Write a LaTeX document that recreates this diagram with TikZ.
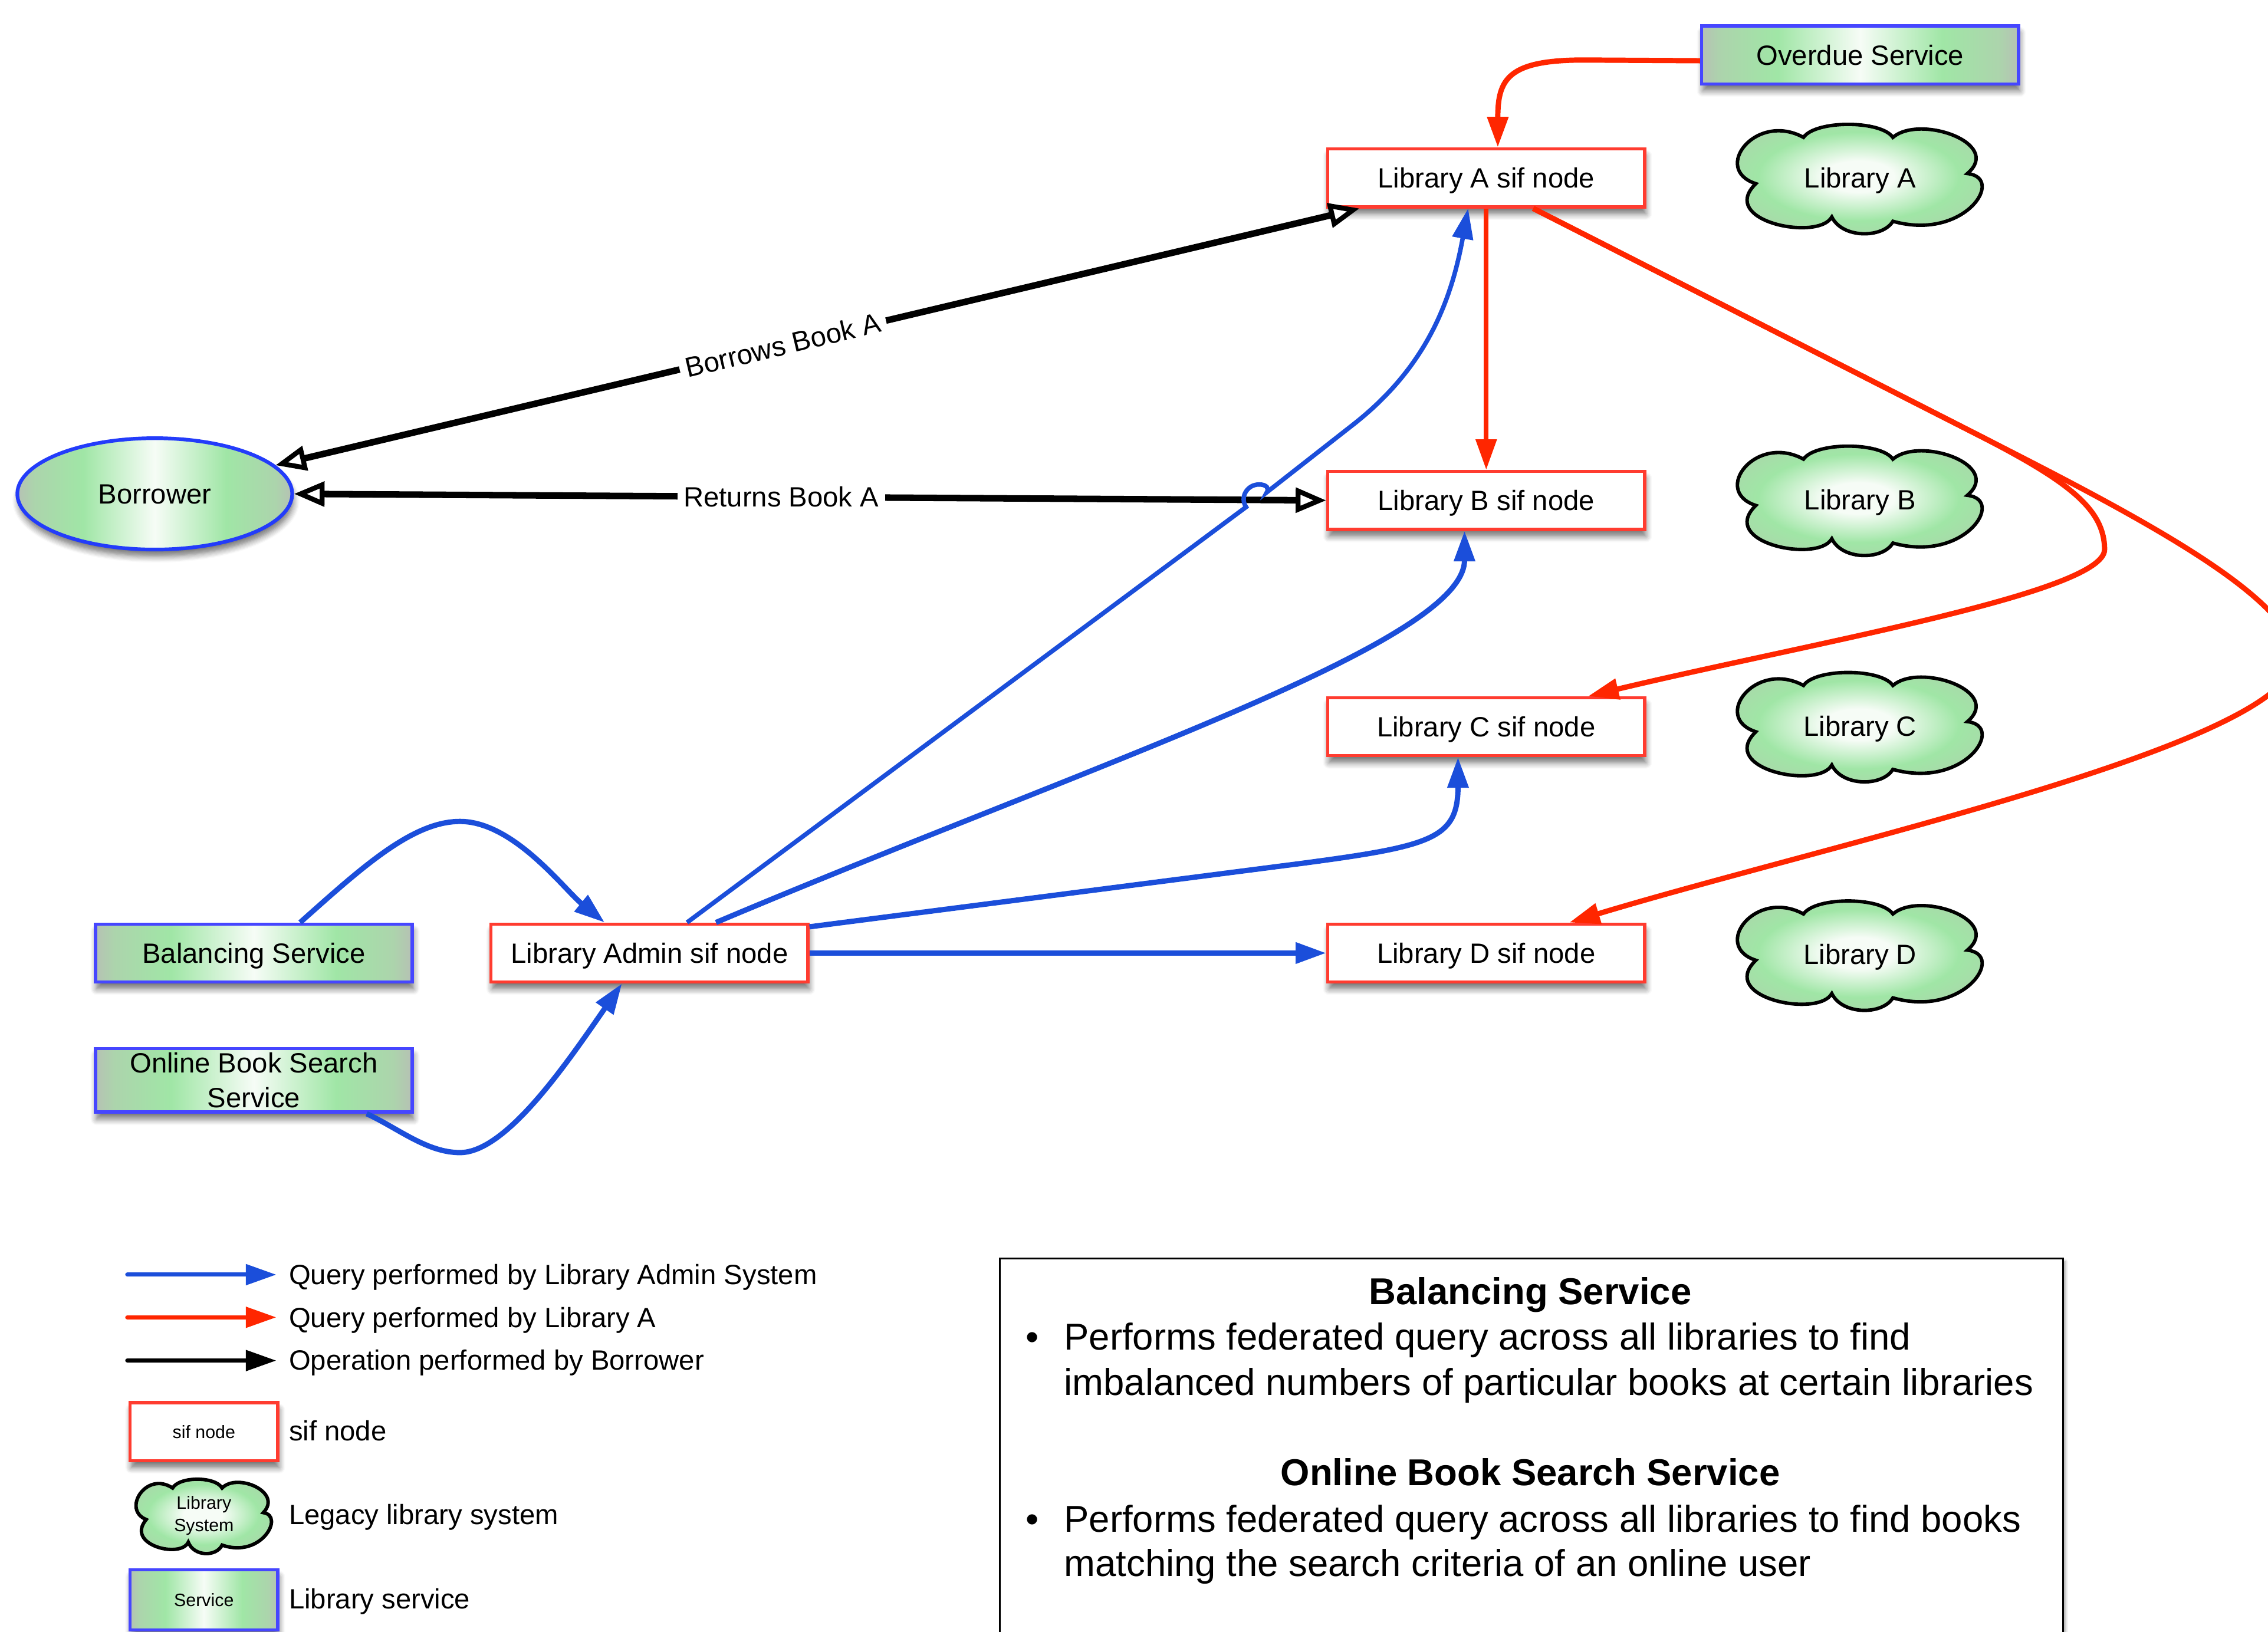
\documentclass[tikz,border=0pt]{standalone}
\usepackage{fontspec}
\setmainfont{Liberation Sans}
\usetikzlibrary{arrows.meta,shapes.geometric,shadows.blur,calc}

\definecolor{lnblue}{RGB}{27,78,218}
\definecolor{lnred}{RGB}{255,38,0}
\definecolor{sifred}{RGB}{255,60,48}
\definecolor{svcblue}{RGB}{70,70,255}
\definecolor{elblue}{RGB}{35,60,250}
\definecolor{sgray}{RGB}{182,193,180}
\definecolor{smid}{RGB}{172,212,172}
\definecolor{sgreen}{RGB}{160,230,166}
\definecolor{swhite}{RGB}{246,252,246}
\definecolor{cmid}{RGB}{170,215,170}

\pgfdeclarehorizontalshading{svcshade}{100bp}{color(0bp)=(sgray); color(25bp)=(sgray); color(28bp)=(smid); color(37bp)=(sgreen); color(50bp)=(swhite); color(63bp)=(sgreen); color(72bp)=(smid); color(75bp)=(sgray); color(100bp)=(sgray)}
\pgfdeclareradialshading{cloudshade}{\pgfpoint{0bp}{0bp}}{color(0bp)=(swhite); color(6bp)=(swhite); color(17bp)=(sgreen); color(25bp)=(cmid); color(32bp)=(sgray); color(50bp)=(sgray)}

\newcommand{\nodefnt}{\fontsize{13.7}{17}\selectfont}
\newcommand{\smallfnt}{\fontsize{8.8}{10.9}\selectfont}
\newcommand{\descfnt}{\fontsize{18.4}{22.1}\selectfont}

\begin{document}
\begin{tikzpicture}[x=0.025cm, y=-0.025cm,
  filltip/.tip={Triangle[length=15pt,width=10pt]},
  opentip/.tip={Triangle[length=15pt,width=12pt,fill=white,line width=2.4pt]},
  shadowed/.style={blur shadow={shadow xshift=0.6pt, shadow yshift=-3.4pt, shadow blur radius=3pt, shadow blur steps=6, shadow opacity=55}},
  every node/.style={font=\nodefnt, text=black},
  capbox/.style={text height=9.8pt, text depth=0pt},
  smallcap/.style={text height=6.3pt, text depth=0pt},
  sif/.style={rectangle, draw=sifred, line width=1.6pt, fill=white, minimum width=5.475cm, minimum height=1cm, inner sep=0pt, shadowed},
  svc/.style={rectangle, draw=svcblue, line width=1.6pt, shade, shading=svcshade, minimum width=5.475cm, minimum height=1cm, inner sep=0pt, align=center, shadowed},
  cloudlook/.style={draw=black, line width=1.7pt, shade, shading=cloudshade, shadowed},
  cloudpic/.pic={
    \path[pic actions] (-70,4)
      .. controls (-100,-6) and (-70,-46) .. (-38,-28)
      .. controls (-30,-40) and (14,-40) .. (22,-28)
      .. controls (40,-44) and (96,-24) .. (72,-3)
      .. controls (98,0) and (70,44) .. (22,30)
      .. controls (15,42) and (-12,42) .. (-19,27)
      .. controls (-28,44) and (-96,30) .. (-70,4) -- cycle;
  },
  cloudtext/.style={inner sep=0pt, align=center},
  borrow/.style={ellipse, draw=elblue, line width=1.8pt, shade, shading=svcshade, minimum width=4.75cm, minimum height=1.925cm, inner sep=0pt, shadowed},
  blueln/.style={draw=lnblue, line width=2.6pt, -filltip},
  redln/.style={draw=lnred, line width=2.6pt, -filltip},
  blkln/.style={draw=black, line width=3.2pt, opentip-opentip},
  lbl/.style={fill=white, inner sep=3pt},
  lgtext/.style={anchor=base west, inner sep=0pt},
  dtitle/.style={anchor=base, inner sep=0pt, font=\descfnt\bfseries},
  dtext/.style={anchor=base west, inner sep=0pt, font=\descfnt},
  dbul/.style={anchor=base, inner sep=0pt, font=\descfnt}
]
\useasboundingbox (0,0) rectangle (1568,1128.5);
\clip (0,0) rectangle (1568,1128.5);

% ---- nodes ----
\node[svc, capbox] (overdue) at (1286,38) {Overdue Service};
\node[sif, capbox] (libA) at (1027.5,123) {Library A sif node};
\node[sif, capbox] (libB) at (1027.5,346) {Library B sif node};
\node[sif, capbox] (libC) at (1027.5,502.5) {Library C sif node};
\node[sif, capbox] (libD) at (1027.5,659) {Library D sif node};
\node[sif, capbox] (admin) at (449,659) {Library Admin sif node};
\node[svc, capbox] (balancing) at (175.5,659) {Balancing Service};
\node[svc, minimum height=1.1cm] (online) at (175.5,747) {Online Book Search\\Service};
\node[borrow, capbox] (borrower) at (107,341.5) {Borrower};

% ---- legacy library clouds ----
\pic[cloudlook, xscale=1.03] at (1286,123) {cloudpic};
\node[cloudtext, capbox] (cloudA) at (1286,123) {Library A};
\pic[cloudlook, xscale=1.03] at (1286,345.5) {cloudpic};
\node[cloudtext, capbox] (cloudB) at (1286,345.5) {Library B};
\pic[cloudlook, xscale=1.03] at (1286,502) {cloudpic};
\node[cloudtext, capbox] (cloudC) at (1286,502) {Library C};
\pic[cloudlook, xscale=1.03] at (1286,660) {cloudpic};
\node[cloudtext, capbox] (cloudD) at (1286,660) {Library D};

% ---- legend ----
\coordinate (lgb1) at (88,881.4);  \coordinate (lgb2) at (191,881.4);
\coordinate (lgr1) at (88,910.9);  \coordinate (lgr2) at (191,910.9);
\coordinate (lgk1) at (88,940.8);  \coordinate (lgk2) at (191,940.8);
\draw[draw=lnblue, line width=2pt, line cap=round, -filltip] (lgb1) -- (lgb2);
\draw[draw=lnred, line width=2pt, line cap=round, -filltip] (lgr1) -- (lgr2);
\draw[draw=black, line width=2pt, line cap=round, -filltip] (lgk1) -- (lgk2);
\node[lgtext] (lgbt) at (199.5,888.3) {Query performed by Library Admin System};
\node[lgtext] (lgrt) at (199.5,917.8) {Query performed by Library A};
\node[lgtext] (lgkt) at (199.5,947.4) {Operation performed by Borrower};

\node[sif, smallcap, minimum width=2.55cm, minimum height=1cm, font=\smallfnt] (lgsif) at (141,990) {sif node};
\node[lgtext] (lgsift) at (199.5,996) {sif node};
\pic[cloudlook, xscale=0.57, yscale=0.68] at (141,1048) {cloudpic};
\node[cloudtext, font=\smallfnt] (lgcloud) at (141,1048) {Library\\System};
\node[lgtext] (lgcloudt) at (199.5,1054.2) {Legacy library system};
\node[svc, smallcap, minimum width=2.55cm, minimum height=1.04cm, font=\smallfnt] (lgsvc) at (141,1106.3) {Service};
\node[lgtext] (lgsvct) at (199.5,1112.4) {Library service};

% ---- description box ----
\node[draw=black, line width=0.8pt, fill=white, rectangle, anchor=north west, minimum width=18.375cm, minimum height=8cm, inner sep=0pt, blur shadow={shadow xshift=1pt, shadow yshift=-1.5pt, shadow blur radius=1.5pt, shadow opacity=40}] (desc) at (690.6,869.7) {};
\node[dtitle] (t1) at (1058,902.2) {Balancing Service};
\node[dbul] (bu1) at (713.8,933.5) {\textbullet};
\node[dtext] (p1a) at (735.4,933.5) {Performs federated query across all libraries to find};
\node[dtext] (p1b) at (735.4,964.7) {imbalanced numbers of particular books at certain libraries};
\node[dtitle] (t2) at (1058,1027.3) {Online Book Search Service};
\node[dbul] (bu2) at (713.8,1059.4) {\textbullet};
\node[dtext] (p2a) at (735.4,1059.4) {Performs federated query across all libraries to find books};
\node[dtext] (p2b) at (735.4,1089.8) {matching the search criteria of an online user};

% ---- black connectors ----
\draw[blkln] (borrower) -- node[lbl, sloped, pos=0.468] (lblborrow) {Borrows Book A} ($(libA.south west)+(23,0)$);
\draw[blkln] (borrower.east) -- node[lbl, pos=0.472] (lblreturn) {Returns Book A} (libB.west);

% ---- red connectors ----
\draw[redln] ($(overdue.west)+(0,4)$) -- (1095,41.5) .. controls (1042,41.5) and (1035.5,55) .. ($(libA.north)+(8,0)$);
\draw[redln, line width=2.2pt] (libA.south) -- (libB.north);
\draw[redln] ($(libA.south)+(32.5,0)$) -- (1370,302) .. controls (1430,333) and (1455,352) .. (1455,380) .. controls (1455,410) and (1250,445) .. ($(libC.north)+(70.5,0)$);
\draw[redln] ($(libA.south)+(32.5,0)$) -- (1370,302) .. controls (1480,358) and (1600,420) .. (1585,462) .. controls (1560,520) and (1260,585) .. ($(libD.north)+(57.5,0)$);

% ---- blue connectors ----
\draw[blueln, line width=2.2pt] ($(admin.north)+(26,0)$) -- (861.5,350.6) .. controls (857,344) and (862,335) .. (870.5,335) .. controls (876,335) and (877.5,338) .. (875.8,340.4) -- (935,294) .. controls (985,255) and (1003,210) .. ($(libA.south)+(-12.5,0)$);
\draw[blueln] ($(admin.north)+(46,0)$) .. controls (750,530) and (1012.5,445) .. ($(libB.south)+(-15,0)$);
\draw[blueln] ($(admin.north east)+(0,3)$) -- (900,597) .. controls (990,585) and (1008,580) .. ($(libC.south)+(-19.5,0)$);
\draw[blueln] (admin.east) -- (libD.west);
\draw[blueln] ($(balancing.north)+(32,0)$) .. controls (250,600) and (285,568) .. (318,568) .. controls (355,568) and (390,615) .. ($(admin.north)+(-31,0)$);
\draw[blueln] ($(online.south)+(78,0)$) .. controls (275,780) and (295,797) .. (318,797) .. controls (350,797) and (392,735) .. ($(admin.south)+(-19,0)$);
\end{tikzpicture}
\end{document}
